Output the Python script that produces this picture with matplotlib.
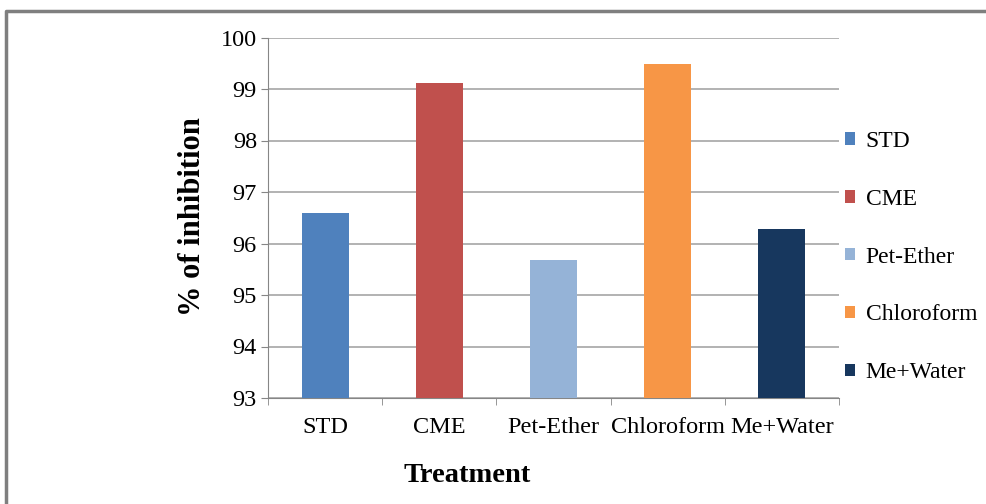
import matplotlib
matplotlib.use("Agg")
import matplotlib.pyplot as plt
from matplotlib.lines import Line2D
from matplotlib.patches import Patch

categories = ["STD", "CME", "Pet-Ether", "Chloroform", "Me+Water"]
values = [96.59, 99.12, 95.68, 99.49, 96.28]
colors = ["#4F81BD", "#C0504D", "#95B3D7", "#F79646", "#17375E"]
yticks = [93, 94, 95, 96, 97, 98, 99, 100]

plt.rcParams['font.family'] = ['Liberation Serif', 'DejaVu Serif']

W, H = 986, 504
fig = plt.figure(figsize=(W / 100, H / 100), dpi=100)
ax = fig.add_axes([268 / W, 1 - 398 / H, (839 - 268) / W, (398 - 37.5) / H])

x = list(range(len(categories)))
ax.bar(x, [v - 93 for v in values], bottom=93, width=0.41, color=colors, zorder=3)

ax.set_xlim(-0.5, len(categories) - 0.5)
ax.set_ylim(93, 100)
ax.set_yticks(yticks)
ax.set_yticklabels([str(t) for t in yticks], fontsize=17.5)
ax.set_xticks(x)
ax.set_xticklabels(categories, fontsize=17.5)
ax.set_xticks([i - 0.5 for i in range(len(categories) + 1)], minor=True)
ax.tick_params(axis='x', which='major', length=0, pad=14)
ax.tick_params(axis='x', which='minor', length=5, color='#868686')
ax.tick_params(axis='y', length=5, color='#868686', pad=3)
ax.grid(axis='y', color='#A6A6A6', linewidth=1.2, zorder=0)
for s in ['top', 'right']:
    ax.spines[s].set_visible(False)
ax.spines['left'].set_color('#868686')
ax.spines['bottom'].set_color('#868686')

fig.text(192 / W, 1 - 217 / H, "% of inhibition", rotation=90, fontsize=22,
         fontweight='bold', ha='center', va='center')
fig.text(467 / W, 1 - 476 / H, "Treatment", fontsize=20.5, fontweight='bold',
         ha='center', va='center')

handles = [Patch(facecolor=c, edgecolor='none') for c in colors]
leg = fig.legend(handles, categories, loc='upper left',
                 bbox_to_anchor=(845 / W, 1 - 131 / H), frameon=False,
                 fontsize=17, handlelength=0.42, handleheight=0.42,
                 handletextpad=0.45, labelspacing=1.56, borderaxespad=0,
                 borderpad=0)

fig.add_artist(Line2D([6 / W, 6 / W, 1], [0, 1 - 11 / H, 1 - 11 / H],
                      transform=fig.transFigure, color='#7F7F7F', linewidth=2.5))

fig.savefig("out.png", dpi=100)
